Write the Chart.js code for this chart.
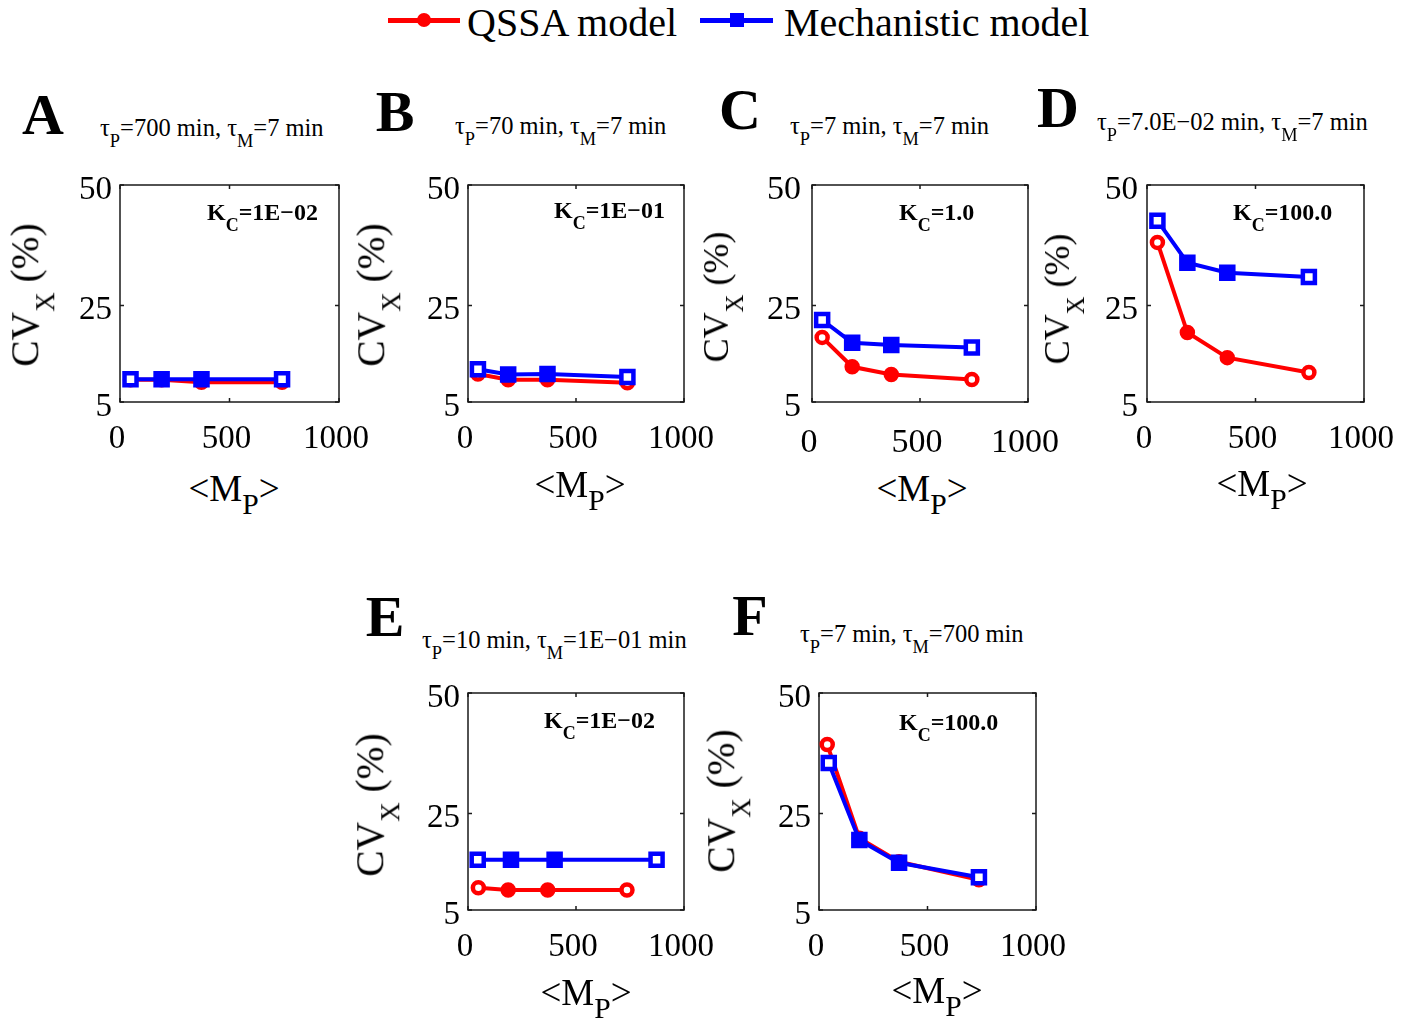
<!DOCTYPE html>
<html>
<head>
<meta charset="utf-8">
<script src="https://cdn.jsdelivr.net/npm/chart.js@4/dist/chart.umd.min.js"></script>
<style>
  html, body { margin:0; padding:0; background:#fff; }
  body { width:1413px; height:1025px; position:relative; overflow:hidden; }
  .t { position:absolute; font-family:"Liberation Serif","Times New Roman",serif; line-height:1; white-space:nowrap; color:#000; }
  .s { position:relative; }
  canvas { position:absolute; }
</style>
</head>
<body>
<script>
// ---------------- DATA ----------------
const xTicks = [0, 500, 1000];
const yTicks = [5, 25, 50];

const xQ_A = [48, 190, 372, 740];  const yQ_A = [9.6, 9.6, 9.1, 9.1];
const xM_A = [48, 190, 372, 740];  const yM_A = [9.7, 9.7, 9.7, 9.7];

const xQ_B = [46, 186, 368, 738];  const yQ_B = [10.8, 9.6, 9.6, 9.0];
const xM_B = [46, 186, 368, 738];  const yM_B = [11.8, 10.7, 10.8, 10.2];

const xQ_C = [47, 186, 367, 740];  const yQ_C = [18.4, 12.3, 10.7, 9.65];
const xM_C = [47, 186, 367, 740];  const yM_C = [22.0, 17.3, 16.8, 16.3];

const xQ_D = [48, 186, 370, 746];  const yQ_D = [38.1, 19.4, 14.2, 11.1];
const xM_D = [48, 186, 370, 746];  const yM_D = [42.6, 33.9, 31.8, 30.9];

const xQ_E = [48, 186, 369, 736];  const yQ_E = [9.6, 9.15, 9.15, 9.15];
const xM_E = [45, 199, 401, 873];  const yM_E = [15.4, 15.4, 15.4, 15.4];

const xQ_F = [38, 186, 369, 737];  const yQ_F = [39.3, 19.9, 15.0, 11.25];
const xM_F = [45, 186, 369, 737];  const yM_F = [35.5, 19.5, 14.8, 11.8];

const panelLetters = ["A", "B", "C", "D", "E", "F"];
const tauP = ["700", "70", "7", "7.0E\u221202", "10", "7"];
const tauM = ["7", "7", "7", "7", "1E\u221201", "700"];
const kcLabels = ["1E\u221202", "1E\u221201", "1.0", "100.0", "1E\u221202", "100.0"];
const seriesNames = ["QSSA model", "Mechanistic model"];

// ---------------- LAYOUT ----------------
const FONT = '"Liberation Serif","Times New Roman",serif';
const RED = '#ff0000', BLUE = '#0000ff';
const boxes = [
  [120, 185, 339, 402],
  [468, 185, 684, 402],
  [812, 185, 1028, 402],
  [1147, 185, 1364, 402],
  [468, 693, 684, 910],
  [819, 693, 1036, 910]
];
const letterPos = [[43,115],[395,112],[740,110],[1058,108],[385,617],[750,616]];
const titlePos = [[100,137],[455,135],[790,135],[1097,131],[422,649],[800,643]];
const kcPos = [[207,220],[554,218],[899,220],[1233,220],[544,728],[899,730]];
const yTitlePos = [[26,295],[372,295],[716,297],[1057,299],[371,805],[722,801]];
const yTitleSize = [39.5, 39.5, 36, 36, 39.5, 39.5];
const tickSize = [33, 33, 34, 33, 33, 33];
const xTickPad = [18, 18, 21, 18, 18, 18];
const yTickPad = [8, 8, 11, 9, 8, 8];
const xTitlePos = [[234,488],[580,484],[922,488],[1262,483],[586,992],[937,990]];

const data = [
  [xQ_A,yQ_A,xM_A,yM_A],[xQ_B,yQ_B,xM_B,yM_B],[xQ_C,yQ_C,xM_C,yM_C],
  [xQ_D,yQ_D,xM_D,yM_D],[xQ_E,yQ_E,xM_E,yM_E],[xQ_F,yQ_F,xM_F,yM_F]
];

function txt(html, x, y, size, opt) {
  opt = opt || {};
  const d = document.createElement('div');
  d.className = 't';
  d.innerHTML = html;
  d.style.fontSize = size + 'px';
  if (opt.bold) d.style.fontWeight = 'bold';
  d.style.left = x + 'px';
  if (opt.baseline) {
    d.style.top = (y - 0.8375 * size) + 'px';
  } else {
    d.style.top = y + 'px';
  }
  if (opt.center) d.style.transform = 'translate(-50%,-50%)';
  if (opt.vcenter) d.style.transform = 'translate(0,-50%)';
  if (opt.rot) d.style.transform = 'translate(-50%,-50%) rotate(-90deg)';
  document.body.appendChild(d);
  return d;
}
function sub(t, size, top) {
  return '<span class="s" style="font-size:' + size + 'em;top:' + top + 'em">' + t + '</span>';
}

const boxPlugin = {
  id: 'boxPlugin',
  beforeDatasetsDraw(chart) {
    const a = chart.chartArea, ctx = chart.ctx;
    const xs = chart.scales.x, ys = chart.scales.y;
    ctx.save();
    ctx.strokeStyle = '#1a1a1a';
    ctx.lineWidth = 1.5;
    ctx.strokeRect(a.left, a.top, a.right - a.left, a.bottom - a.top);
    ctx.beginPath();
    const tl = 4;
    xTicks.forEach(v => {
      const px = xs.getPixelForValue(v);
      ctx.moveTo(px, a.bottom); ctx.lineTo(px, a.bottom - tl);
      ctx.moveTo(px, a.top); ctx.lineTo(px, a.top + tl);
    });
    yTicks.forEach(v => {
      const py = ys.getPixelForValue(v);
      ctx.moveTo(a.left, py); ctx.lineTo(a.left + tl, py);
      ctx.moveTo(a.right, py); ctx.lineTo(a.right - tl, py);
    });
    ctx.stroke();
    ctx.restore();
  }
};

function ds(label, xs, ys, color, style, radius, order) {
  const pts = xs.map((x, i) => ({ x: x, y: ys[i] }));
  const bg = xs.map((_, i) => (i === 0 || i === xs.length - 1) ? '#ffffff' : color);
  return {
    label: label, data: pts, borderColor: color, backgroundColor: color,
    borderWidth: 4, pointStyle: style, pointRadius: radius,
    pointBackgroundColor: bg, pointBorderColor: color, pointBorderWidth: 4.5,
    tension: 0, clip: false, order: order
  };
}

function zeroPad(s) { s.paddingTop = 0; s.paddingBottom = 0; s.paddingLeft = 0; s.paddingRight = 0; }

const PADL = 70, PADT = 20, PADR = 50, PADB = 62;
boxes.forEach((b, i) => {
  const [L, T, R, B] = b;
  const cv = document.createElement('canvas');
  const w = (R - L) + PADL + PADR, h = (B - T) + PADT + PADB;
  cv.width = w; cv.height = h;
  cv.style.left = (L - PADL) + 'px'; cv.style.top = (T - PADT) + 'px';
  cv.style.width = w + 'px'; cv.style.height = h + 'px';
  document.body.appendChild(cv);
  const [xq, yq, xm, ym] = data[i];
  new Chart(cv, {
    type: 'line',
    data: { datasets: [
      ds(seriesNames[1], xm, ym, BLUE, 'rect', 8.5, 0),
      ds(seriesNames[0], xq, yq, RED, 'circle', 5.5, 1)
    ]},
    options: {
      responsive: false, animation: false, devicePixelRatio: 1,
      layout: { padding: { left: 0, top: PADT, right: PADR, bottom: 0 } },
      plugins: { legend: { display: false }, tooltip: { enabled: false } },
      scales: {
        x: {
          type: 'linear', min: 0, max: 1000,
          afterBuildTicks: s => { s.ticks = xTicks.map(v => ({ value: v })); },
          ticks: { font: { family: FONT, size: tickSize[i] }, color: '#000', padding: xTickPad[i], maxRotation: 0, autoSkip: false, labelOffset: -3,
                   callback: v => String(v) },
          grid: { display: false, drawTicks: false }, border: { display: false },
          afterFit: s => { s.height = PADB; zeroPad(s); }
        },
        y: {
          type: 'linear', min: 5, max: 50,
          afterBuildTicks: s => { s.ticks = yTicks.map(v => ({ value: v })); },
          ticks: { font: { family: FONT, size: tickSize[i] }, color: '#000', padding: yTickPad[i], labelOffset: 5,
                   callback: v => String(v) },
          grid: { display: false, drawTicks: false }, border: { display: false },
          afterFit: s => { s.width = PADL; zeroPad(s); }
        }
      }
    },
    plugins: [boxPlugin]
  });

  // texts
  txt(panelLetters[i], letterPos[i][0], letterPos[i][1], 58, { bold: true, center: true });
  txt('\u03C4' + sub('P', 0.75, 0.55) + '=' + tauP[i] + ' min, \u03C4' + sub('M', 0.75, 0.55) + '=' + tauM[i] + ' min',
      titlePos[i][0], titlePos[i][1], 24.5, { baseline: true });
  txt('K' + sub('C', 0.75, 0.62) + '=' + kcLabels[i], kcPos[i][0], kcPos[i][1], 24, { bold: true, baseline: true });
  txt('CV' + sub('X', 0.68, 0.6) + ' (%)', yTitlePos[i][0], yTitlePos[i][1], yTitleSize[i], { rot: true });
  txt('&lt;M' + sub('P', 0.8, 0.45) + '&gt;', xTitlePos[i][0], xTitlePos[i][1], 37, { center: true });
});

// ---------------- LEGEND (HTML) ----------------
function legendItem(x1, x2, y, color, shape) {
  const ln = document.createElement('div');
  ln.style.cssText = 'position:absolute;left:' + x1 + 'px;top:' + (y - 2.5) + 'px;width:' + (x2 - x1) + 'px;height:5px;background:' + color;
  document.body.appendChild(ln);
  const m = document.createElement('div');
  const cx = (x1 + x2) / 2;
  const sz = 14;
  m.style.cssText = 'position:absolute;left:' + (cx - sz / 2) + 'px;top:' + (y - sz / 2) + 'px;width:' + sz + 'px;height:' + sz + 'px;background:' + color + ';' + (shape === 'circle' ? 'border-radius:50%;' : '');
  document.body.appendChild(m);
}
legendItem(388, 460, 20, RED, 'circle');
txt(seriesNames[0], 467, 23, 40, { vcenter: true });
legendItem(700, 773, 20, BLUE, 'rect');
txt(seriesNames[1], 784, 23, 40, { vcenter: true });
</script>
</body>
</html>
